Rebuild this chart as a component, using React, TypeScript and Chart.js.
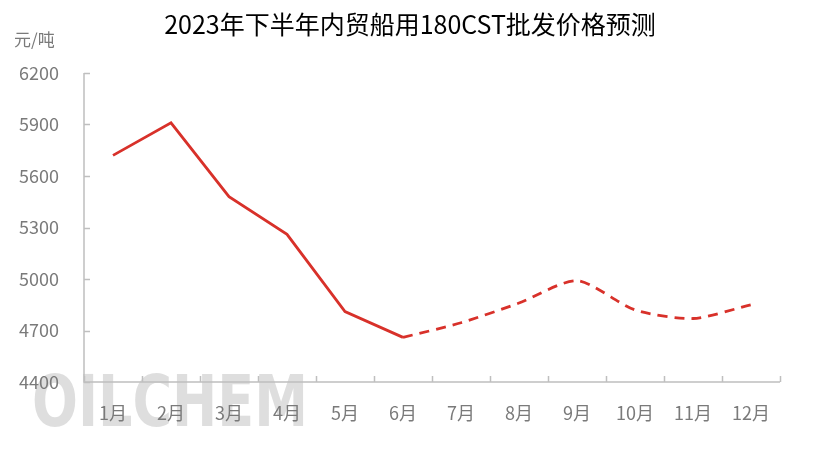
import React, { useEffect, useRef } from "react";
import { Chart, registerables } from "chart.js";

Chart.register(...registerables);

const TITLE = "2023年下半年内贸船用180CST批发价格预测";
const UNIT = "元/吨";
const MONTHS = ["1月", "2月", "3月", "4月", "5月", "6月", "7月", "8月", "9月", "10月", "11月", "12月"];
const ACTUAL = [5720, 5910, 5480, 5260, 4810, 4660, null, null, null, null, null, null];
const FORECAST = [null, null, null, null, null, 4660, 4745, 4860, 4990, 4820, 4770, 4850];
const Y_MIN = 4400;
const Y_MAX = 6200;
const Y_STEP = 300;

const RED = "#d8312a";
const AXIS = "#bfbfbf";
const LABEL = "#7a7a7a";
const FONT = "'Noto Sans CJK SC', 'Noto Sans', sans-serif";

const decor = {
  id: "decor",
  beforeDraw(chart: any) {
    const ctx = chart.ctx;
    ctx.save();
    // watermark
    ctx.font = `bold 71px 'DejaVu Sans Condensed', 'DejaVu Sans', sans-serif`;
    ctx.textBaseline = "alphabetic";
    ctx.textAlign = "left";
    const w = ctx.measureText("OILCHEM").width;
    const grad = ctx.createLinearGradient(0, 373, 0, 426);
    grad.addColorStop(0, "rgba(200,200,200,0.6)");
    grad.addColorStop(1, "rgba(235,235,235,0.35)");
    ctx.fillStyle = grad;
    ctx.translate(32, 426);
    ctx.scale(276 / w, 1);
    ctx.fillText("OILCHEM", 0, 0);
    ctx.restore();

    ctx.save();
    ctx.fillStyle = "#000";
    ctx.font = `25px ${FONT}`;
    ctx.textAlign = "center";
    ctx.textBaseline = "middle";
    ctx.fillText(TITLE, 410, 24);
    ctx.fillStyle = LABEL;
    ctx.font = `17px ${FONT}`;
    ctx.textAlign = "left";
    ctx.fillText(UNIT, 14, 40);
    ctx.restore();
  },
  beforeDatasetsDraw(chart: any) {
    const ctx = chart.ctx;
    const x = chart.scales.x;
    const y = chart.scales.y;
    const a = chart.chartArea;
    ctx.save();
    ctx.strokeStyle = AXIS;
    ctx.lineWidth = 1.5;
    ctx.beginPath();
    ctx.moveTo(a.left, a.top);
    ctx.lineTo(a.left, a.bottom);
    ctx.lineTo(a.right, a.bottom);
    for (let v = Y_MIN; v <= Y_MAX; v += Y_STEP) {
      const py = Math.round(y.getPixelForValue(v)) + 0.5;
      ctx.moveTo(a.left, py);
      ctx.lineTo(a.left + 6, py);
    }
    for (let i = 0; i <= MONTHS.length; i++) {
      const px = Math.round(x.getPixelForValue(i - 0.5)) + 0.5;
      ctx.moveTo(px, a.bottom);
      ctx.lineTo(px, a.bottom - 6);
    }
    ctx.stroke();
    ctx.restore();
  },
};

export default function App() {
  const ref = useRef<HTMLCanvasElement>(null);
  useEffect(() => {
    const chart = new Chart(ref.current!, {
      type: "line",
      data: {
        labels: MONTHS,
        datasets: [
          {
            data: ACTUAL,
            borderColor: RED,
            borderWidth: 2.8,
            pointRadius: 0,
            tension: 0,
            spanGaps: false,
          },
          {
            data: FORECAST,
            borderColor: RED,
            borderWidth: 2.8,
            borderDash: [10, 7],
            pointRadius: 0,
            tension: 0.25,
            spanGaps: false,
          },
        ],
      },
      options: {
        animation: false,
        responsive: false,
        maintainAspectRatio: false,
        layout: { padding: { top: 73, right: 35, left: 0, bottom: 0 } },
        plugins: { legend: { display: false }, tooltip: { enabled: false }, title: { display: false } },
        scales: {
          x: {
            offset: true,
            grid: { display: false, drawTicks: false },
            border: { display: false },
            ticks: { color: LABEL, font: { size: 18, family: FONT }, padding: 20, maxRotation: 0 },
            afterFit: (s: any) => {
              s.height = 79;
            },
          },
          y: {
            min: Y_MIN,
            max: Y_MAX,
            grid: { display: false, drawTicks: false },
            border: { display: false },
            ticks: {
              stepSize: Y_STEP,
              color: LABEL,
              font: { size: 18, family: FONT },
              padding: 25,
              callback: (v: any) => String(v),
            },
            afterFit: (s: any) => {
              s.width = 84;
            },
          },
        },
      },
      plugins: [decor],
    });
    return () => chart.destroy();
  }, []);
  return (
    <div style={{ position: "fixed", left: 0, top: 0, width: 815, height: 461, background: "#fff" }}>
      <canvas ref={ref} width={815} height={461} />
    </div>
  );
}
